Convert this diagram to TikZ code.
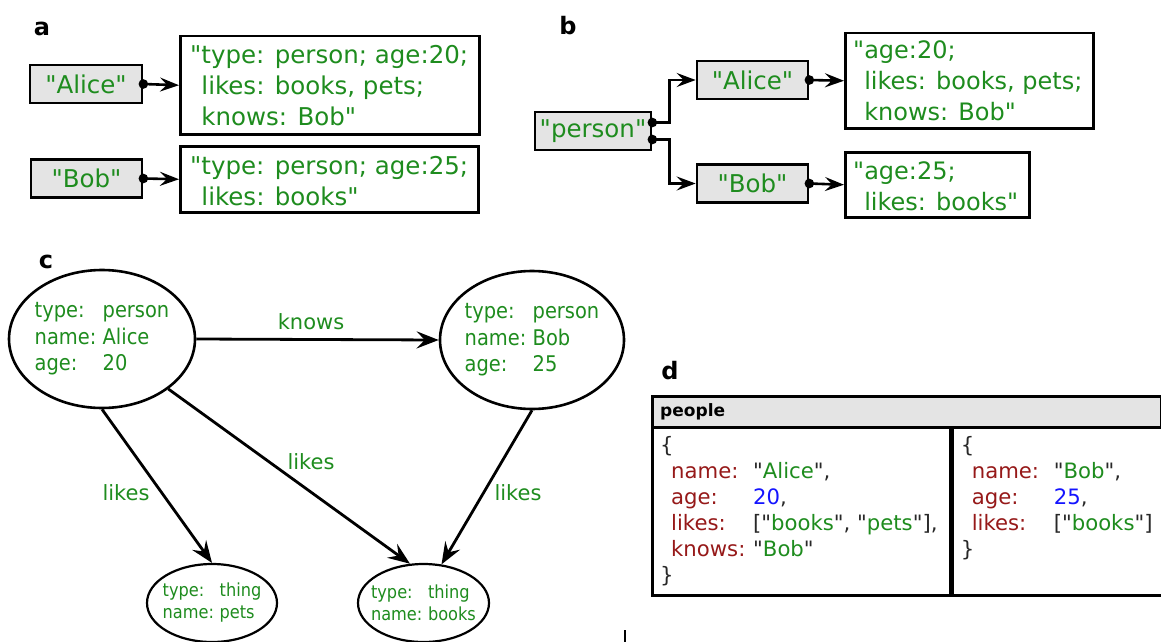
\documentclass[tikz,border=0pt]{standalone}
\usepackage{fontspec}
\setmainfont{DejaVu Sans}[Ligatures=TeXOff]
\newfontfamily\condfont{DejaVu Sans Condensed}[Ligatures=TeXOff]
\usetikzlibrary{arrows.meta,shapes.geometric}
\definecolor{tgreen}{RGB}{30,140,30}
\definecolor{kred}{RGB}{150,25,25}
\definecolor{nblue}{RGB}{20,20,255}
\definecolor{boxgray}{RGB}{228,228,228}
\definecolor{punct}{RGB}{40,40,40}
\newcommand\jkey[1]{\makebox[82pt][l]{\textcolor{kred}{#1}}}
\newcommand\jstr[1]{"\textcolor{tgreen}{#1}"}
\newcommand\ckey[2]{\makebox[#1][l]{#2}}
\begin{document}
\begin{tikzpicture}[x=1pt,y=-1pt,
  lbl/.style={inner sep=0pt, font=\fontsize{24}{28}\selectfont\bfseries},
  keybox/.style={draw, line width=2.7pt, fill=boxgray, inner sep=0pt, minimum height=38pt, text=tgreen, font=\fontsize{24.5}{31}\selectfont},
  valbox/.style={draw, line width=2.5pt, fill=white, inner sep=0pt, anchor=north west},
  valtext/.style={anchor=west, inner sep=0pt, align=left, text=tgreen, font=\fontsize{24.5}{31}\selectfont},
  valtextb/.style={valtext, font=\fontsize{24}{31}\selectfont},
  ab tip/.style={-{Stealth[length=19pt,width=14pt,inset=7pt]}},
  ab arrow/.style={line width=2.6pt, ab tip},
  conn/.style={line width=2.6pt},
  dotc/.style={fill=black},
  cell/.style={draw, line width=2.6pt, ellipse, minimum width=186pt, minimum height=138pt, inner sep=0pt, fill=white},
  smallcell/.style={cell, line width=2.2pt, minimum width=130pt, minimum height=78pt},
  ctext/.style={inner sep=0pt, align=left, text=tgreen, font=\condfont\fontsize{21.6}{26.5}\selectfont},
  sctext/.style={inner sep=0pt, align=left, text=tgreen, font=\condfont\fontsize{18}{22}\selectfont},
  elabel/.style={inner sep=0pt, text=tgreen, font=\fontsize{21}{25}\selectfont},
  c arrow/.style={line width=2.8pt, -{Stealth[length=22pt,width=17pt,inset=8pt]}},
  tcell/.style={draw, line width=2.6pt, fill=white, anchor=north west, inner sep=0pt},
  celltext/.style={anchor=north west, inner sep=0pt, align=left, text=punct, font=\fontsize{21.2}{26}\selectfont}
]
\useasboundingbox (0,0) rectangle (1161,642);

% ---------- panel a ----------
\node[lbl] (la) at (42,29) {a};
\node[keybox, minimum width=112pt] (ka1) at (86,84) {"Alice"};
\node[valbox, minimum width=299pt, minimum height=98pt] (va1) at (179,35) {};
\node[valtext] (va1t) at ([xshift=11pt]va1.west) {"type: person; age:20;\\\hphantom{"}likes: books, pets;\\\hphantom{"}knows: Bob"};
\node[keybox, minimum width=111pt] (ka2) at (86.5,178.5) {"Bob"};
\node[valbox, minimum width=298pt, minimum height=66pt] (va2) at (179,145) {};
\node[valtext] (va2t) at ([xshift=11pt,yshift=-2pt]va2.west) {"type: person; age:25;\\\hphantom{"}likes: books"};
\draw[ab arrow] (ka1.east) -- (va1.west);
\fill[dotc] (ka1.east) circle (4.8pt);
\draw[ab arrow] (ka2.east) -- (va2.west);
\fill[dotc] (ka2.east) circle (4.8pt);

% ---------- panel b ----------
\node[lbl] (lb) at (568,26) {b};
\node[keybox, minimum width=116pt] (kp) at (593,131) {"person"};
\node[keybox, minimum width=111pt] (kb1) at (752.5,80) {"Alice"};
\node[keybox, minimum width=111pt] (kb2) at (752.5,183.5) {"Bob"};
\node[valbox, minimum width=248pt, minimum height=95pt] (vb1) at (844,32) {};
\node[valtextb] (vb1t) at ([xshift=9pt]vb1.west) {"age:20;\\\hphantom{"}likes: books, pets;\\\hphantom{"}knows: Bob"};
\node[valbox, minimum width=184pt, minimum height=65pt] (vb2) at (844,151) {};
\node[valtextb] (vb2t) at ([xshift=9pt,yshift=-2pt]vb2.west) {"age:25;\\\hphantom{"}likes: books"};
\coordinate (pd1) at ([yshift=8.5pt]kp.east);
\coordinate (pd2) at ([yshift=-8.5pt]kp.east);
\draw[conn,ab tip] (pd1) -- ++(17,0) |- (kb1.west);
\draw[conn,ab tip] (pd2) -- ++(17,0) |- (kb2.west);
\fill[dotc] (pd1) circle (4.8pt);
\fill[dotc] (pd2) circle (4.8pt);
\draw[ab arrow] (kb1.east) -- (vb1.west);
\fill[dotc] (kb1.east) circle (4.8pt);
\draw[ab arrow] (kb2.east) -- (vb2.west);
\fill[dotc] (kb2.east) circle (4.8pt);

% ---------- panel c ----------
\node[lbl] (lc) at (46,262) {c};
\node[cell] (alice) at (102,339) {};
\node[ctext] (alicet) at (alice) {\ckey{68pt}{type:}person\\\ckey{68pt}{name:}Alice\\\ckey{68pt}{age:}20};
\node[cell, minimum width=184pt] (bob) at (532,340) {};
\node[ctext] (bobt) at (bob) {\ckey{68pt}{type:}person\\\ckey{68pt}{name:}Bob\\\ckey{68pt}{age:}25};
\node[smallcell] (pets) at (212,603) {};
\node[sctext] (petst) at (pets) {\ckey{57pt}{type:}thing\\\ckey{57pt}{name:}pets};
\node[smallcell, minimum width=131pt] (books) at (423.5,603) {};
\node[sctext] (bookst) at (books) {\ckey{57pt}{type:}thing\\\ckey{57pt}{name:}books};
\draw[c arrow] (alice.east) -- (bob.west);
\draw[c arrow] (alice.south) -- (pets.north);
\draw[c arrow] (alice.-37) -- (books.109);
\draw[c arrow] (bob.south) -- (books.65);
\node[elabel] (lknows) at (311,322) {knows};
\node[elabel] (llk1) at (126,493) {likes};
\node[elabel] (llk2) at (311,462) {likes};
\node[elabel] (llk3) at (518,493) {likes};
\coordinate (m1) at (625,630);
\coordinate (m2) at (625,642);
\draw[line width=1.2pt] (m1) -- (m2);

% ---------- panel d ----------
\node[lbl] (ld) at (670,371) {d};
\node[tcell, fill=boxgray, minimum width=509pt, minimum height=31pt] (hdr) at (651,395) {};
\node[anchor=west, inner sep=0pt, font=\fontsize{17}{20}\selectfont\bfseries] (hdrt) at ([xshift=9pt]hdr.west) {people};
\node[tcell, minimum width=298pt, minimum height=168pt] (cell1) at (651,426) {};
\node[tcell, minimum width=211pt, minimum height=168pt] (cell2) at (cell1.north east) {};
\node[celltext] (t1) at ([xshift=9pt,yshift=-10pt]cell1.north west) {\{\\
\hspace*{11pt}\jkey{name:}\jstr{Alice},\\
\hspace*{11pt}\jkey{age:}\textcolor{nblue}{20},\\
\hspace*{11pt}\jkey{likes:}[\jstr{books}, \jstr{pets}],\\
\hspace*{11pt}\jkey{knows:}\jstr{Bob}\\
\}};
\node[celltext] (t2) at ([xshift=9pt,yshift=-10pt]cell2.north west) {\{\\
\hspace*{11pt}\jkey{name:}\jstr{Bob},\\
\hspace*{11pt}\jkey{age:}\textcolor{nblue}{25},\\
\hspace*{11pt}\jkey{likes:}[\jstr{books}]\\
\}};
\end{tikzpicture}
\end{document}
